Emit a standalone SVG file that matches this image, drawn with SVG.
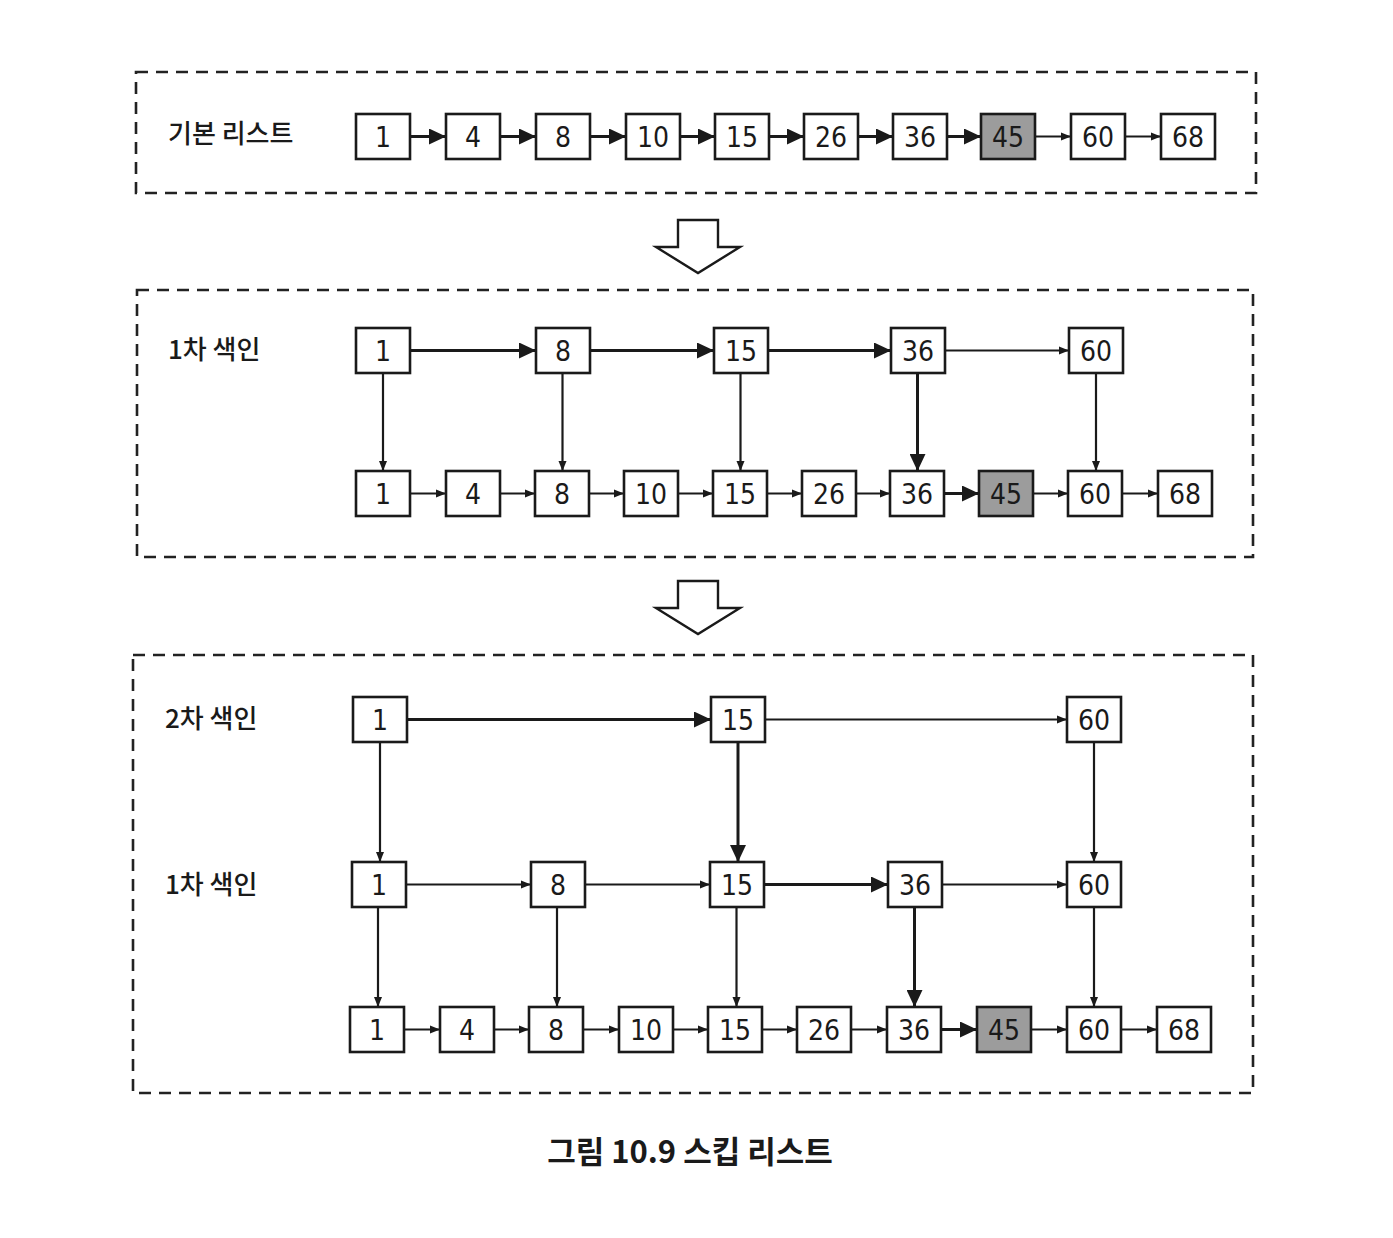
<svg xmlns="http://www.w3.org/2000/svg" width="1393" height="1238" viewBox="0 0 1393 1238">
<style>
.frame{fill:none;stroke:#222;stroke-width:2.6;stroke-dasharray:12 8}
.n rect{fill:#fff;stroke:#1a1a1a;stroke-width:2.6}
.n.hl rect{fill:#9c9c9c}
.n text{font-family:"DejaVu Sans Condensed","DejaVu Sans",sans-serif;font-stretch:condensed;font-size:28px;fill:#1a1a1a;text-anchor:middle}
.lbl{font-family:"Noto Sans CJK KR","Noto Sans",sans-serif;font-size:26px;font-weight:500;fill:#1a1a1a}
.cap{font-family:"Noto Sans CJK KR","Noto Sans",sans-serif;font-size:31px;font-weight:bold;fill:#1a1a1a}
.b{stroke:#1a1a1a;stroke-width:3;fill:none;marker-end:url(#big)}
.s{stroke:#1a1a1a;stroke-width:2.2;fill:none;marker-end:url(#small)}
.hollow{fill:#fff;stroke:#1a1a1a;stroke-width:2.4;stroke-linejoin:miter}
</style>
<defs>
<marker id="big" markerUnits="userSpaceOnUse" markerWidth="18" markerHeight="16" refX="17" refY="8" orient="auto"><path d="M0,0 L17,8 L0,16 z" fill="#1a1a1a"/></marker>
<marker id="small" markerUnits="userSpaceOnUse" markerWidth="10" markerHeight="10" refX="10" refY="5" orient="auto"><path d="M0,1 L10,5 L0,9 z" fill="#1a1a1a"/></marker>
</defs>
<rect width="1393" height="1238" fill="#ffffff"/>

<!-- frames -->
<rect class="frame" x="136" y="72" width="1120" height="121"/>
<rect class="frame" x="137" y="290" width="1116" height="267"/>
<rect class="frame" x="133" y="655" width="1120" height="438"/>

<text class="lbl" x="168" y="143">기본 리스트</text>
<text class="lbl" x="168" y="359">1차 색인</text>
<text class="lbl" x="165" y="728">2차 색인</text>
<text class="lbl" x="165" y="894">1차 색인</text>

<!-- hollow arrows -->
<polygon class="hollow" points="678,220 718,220 718,247 740,247 698,273 656,247 678,247"/>
<polygon class="hollow" points="678,581 718,581 718,608 740,608 698,634 656,608 678,608"/>

<!-- connectors -->
<g id="connectors">
<!-- box 1 -->
<line class="b" x1="410" y1="136.5" x2="446" y2="136.5"/>
<line class="b" x1="500" y1="136.5" x2="536" y2="136.5"/>
<line class="b" x1="590" y1="136.5" x2="626" y2="136.5"/>
<line class="b" x1="680" y1="136.5" x2="715" y2="136.5"/>
<line class="b" x1="769" y1="136.5" x2="804" y2="136.5"/>
<line class="b" x1="858" y1="136.5" x2="893" y2="136.5"/>
<line class="b" x1="947" y1="136.5" x2="981" y2="136.5"/>
<line class="s" x1="1035" y1="136.5" x2="1071" y2="136.5"/>
<line class="s" x1="1125" y1="136.5" x2="1161" y2="136.5"/>
<!-- box 2 upper -->
<line class="b" x1="410" y1="350.5" x2="536" y2="350.5"/>
<line class="b" x1="590" y1="350.5" x2="714" y2="350.5"/>
<line class="b" x1="768" y1="350.5" x2="891" y2="350.5"/>
<line class="s" x1="945" y1="350.5" x2="1069" y2="350.5"/>
<!-- box 2 verticals -->
<line class="s" x1="383" y1="373" x2="383" y2="471"/>
<line class="s" x1="562.5" y1="373" x2="562.5" y2="471"/>
<line class="s" x1="740.5" y1="373" x2="740.5" y2="471"/>
<line class="b" x1="917.5" y1="373" x2="917.5" y2="471"/>
<line class="s" x1="1096" y1="373" x2="1096" y2="471"/>
<!-- box 2 lower -->
<line class="s" x1="410" y1="493.5" x2="446" y2="493.5"/>
<line class="s" x1="500" y1="493.5" x2="535" y2="493.5"/>
<line class="s" x1="589" y1="493.5" x2="624" y2="493.5"/>
<line class="s" x1="678" y1="493.5" x2="713" y2="493.5"/>
<line class="s" x1="767" y1="493.5" x2="802" y2="493.5"/>
<line class="s" x1="856" y1="493.5" x2="890" y2="493.5"/>
<line class="b" x1="944" y1="493.5" x2="979" y2="493.5"/>
<line class="s" x1="1033" y1="493.5" x2="1068" y2="493.5"/>
<line class="s" x1="1122" y1="493.5" x2="1158" y2="493.5"/>
<!-- box 3 second index -->
<line class="b" x1="407" y1="719.5" x2="711" y2="719.5"/>
<line class="s" x1="765" y1="719.5" x2="1067" y2="719.5"/>
<line class="s" x1="380" y1="742" x2="380" y2="862"/>
<line class="b" x1="738" y1="742" x2="738" y2="862"/>
<line class="s" x1="1094" y1="742" x2="1094" y2="862"/>
<!-- box 3 first index -->
<line class="s" x1="406" y1="884.5" x2="531" y2="884.5"/>
<line class="s" x1="585" y1="884.5" x2="710" y2="884.5"/>
<line class="b" x1="764" y1="884.5" x2="888" y2="884.5"/>
<line class="s" x1="942" y1="884.5" x2="1067" y2="884.5"/>
<line class="s" x1="378" y1="907" x2="378" y2="1007"/>
<line class="s" x1="557" y1="907" x2="557" y2="1007"/>
<line class="s" x1="736.5" y1="907" x2="736.5" y2="1007"/>
<line class="b" x1="914.5" y1="907" x2="914.5" y2="1007"/>
<line class="s" x1="1094" y1="907" x2="1094" y2="1007"/>
<!-- box 3 base -->
<line class="s" x1="404" y1="1029.5" x2="440" y2="1029.5"/>
<line class="s" x1="494" y1="1029.5" x2="529" y2="1029.5"/>
<line class="s" x1="583" y1="1029.5" x2="619" y2="1029.5"/>
<line class="s" x1="673" y1="1029.5" x2="708" y2="1029.5"/>
<line class="s" x1="762" y1="1029.5" x2="797" y2="1029.5"/>
<line class="s" x1="851" y1="1029.5" x2="887" y2="1029.5"/>
<line class="b" x1="941" y1="1029.5" x2="977" y2="1029.5"/>
<line class="s" x1="1031" y1="1029.5" x2="1067" y2="1029.5"/>
<line class="s" x1="1121" y1="1029.5" x2="1157" y2="1029.5"/>
</g>

<!-- box 1 nodes -->
<g id="a1" class="n"><rect x="356" y="114" width="54" height="45"/><text x="383" y="147">1</text></g>
<g id="a4" class="n"><rect x="446" y="114" width="54" height="45"/><text x="473" y="147">4</text></g>
<g id="a8" class="n"><rect x="536" y="114" width="54" height="45"/><text x="563" y="147">8</text></g>
<g id="a10" class="n"><rect x="626" y="114" width="54" height="45"/><text x="653" y="147">10</text></g>
<g id="a15" class="n"><rect x="715" y="114" width="54" height="45"/><text x="742" y="147">15</text></g>
<g id="a26" class="n"><rect x="804" y="114" width="54" height="45"/><text x="831" y="147">26</text></g>
<g id="a36" class="n"><rect x="893" y="114" width="54" height="45"/><text x="920" y="147">36</text></g>
<g id="a45" class="n hl"><rect x="981" y="114" width="54" height="45"/><text x="1008" y="147">45</text></g>
<g id="a60" class="n"><rect x="1071" y="114" width="54" height="45"/><text x="1098" y="147">60</text></g>
<g id="a68" class="n"><rect x="1161" y="114" width="54" height="45"/><text x="1188" y="147">68</text></g>

<!-- box 2 upper -->
<g id="b1i1" class="n"><rect x="356" y="328" width="54" height="45"/><text x="383" y="361">1</text></g>
<g id="b1i8" class="n"><rect x="536" y="328" width="54" height="45"/><text x="563" y="361">8</text></g>
<g id="b1i15" class="n"><rect x="714" y="328" width="54" height="45"/><text x="741" y="361">15</text></g>
<g id="b1i36" class="n"><rect x="891" y="328" width="54" height="45"/><text x="918" y="361">36</text></g>
<g id="b1i60" class="n"><rect x="1069" y="328" width="54" height="45"/><text x="1096" y="361">60</text></g>
<!-- box 2 lower -->
<g id="b1" class="n"><rect x="356" y="471" width="54" height="45"/><text x="383" y="504">1</text></g>
<g id="b4" class="n"><rect x="446" y="471" width="54" height="45"/><text x="473" y="504">4</text></g>
<g id="b8" class="n"><rect x="535" y="471" width="54" height="45"/><text x="562" y="504">8</text></g>
<g id="b10" class="n"><rect x="624" y="471" width="54" height="45"/><text x="651" y="504">10</text></g>
<g id="b15" class="n"><rect x="713" y="471" width="54" height="45"/><text x="740" y="504">15</text></g>
<g id="b26" class="n"><rect x="802" y="471" width="54" height="45"/><text x="829" y="504">26</text></g>
<g id="b36" class="n"><rect x="890" y="471" width="54" height="45"/><text x="917" y="504">36</text></g>
<g id="b45" class="n hl"><rect x="979" y="471" width="54" height="45"/><text x="1006" y="504">45</text></g>
<g id="b60" class="n"><rect x="1068" y="471" width="54" height="45"/><text x="1095" y="504">60</text></g>
<g id="b68" class="n"><rect x="1158" y="471" width="54" height="45"/><text x="1185" y="504">68</text></g>

<!-- box 3 second index -->
<g id="c2i1" class="n"><rect x="353" y="697" width="54" height="45"/><text x="380" y="730">1</text></g>
<g id="c2i15" class="n"><rect x="711" y="697" width="54" height="45"/><text x="738" y="730">15</text></g>
<g id="c2i60" class="n"><rect x="1067" y="697" width="54" height="45"/><text x="1094" y="730">60</text></g>
<!-- box 3 first index -->
<g id="c1i1" class="n"><rect x="352" y="862" width="54" height="45"/><text x="379" y="895">1</text></g>
<g id="c1i8" class="n"><rect x="531" y="862" width="54" height="45"/><text x="558" y="895">8</text></g>
<g id="c1i15" class="n"><rect x="710" y="862" width="54" height="45"/><text x="737" y="895">15</text></g>
<g id="c1i36" class="n"><rect x="888" y="862" width="54" height="45"/><text x="915" y="895">36</text></g>
<g id="c1i60" class="n"><rect x="1067" y="862" width="54" height="45"/><text x="1094" y="895">60</text></g>
<!-- box 3 base -->
<g id="c1" class="n"><rect x="350" y="1007" width="54" height="45"/><text x="377" y="1040">1</text></g>
<g id="c4" class="n"><rect x="440" y="1007" width="54" height="45"/><text x="467" y="1040">4</text></g>
<g id="c8" class="n"><rect x="529" y="1007" width="54" height="45"/><text x="556" y="1040">8</text></g>
<g id="c10" class="n"><rect x="619" y="1007" width="54" height="45"/><text x="646" y="1040">10</text></g>
<g id="c15" class="n"><rect x="708" y="1007" width="54" height="45"/><text x="735" y="1040">15</text></g>
<g id="c26" class="n"><rect x="797" y="1007" width="54" height="45"/><text x="824" y="1040">26</text></g>
<g id="c36" class="n"><rect x="887" y="1007" width="54" height="45"/><text x="914" y="1040">36</text></g>
<g id="c45" class="n hl"><rect x="977" y="1007" width="54" height="45"/><text x="1004" y="1040">45</text></g>
<g id="c60" class="n"><rect x="1067" y="1007" width="54" height="45"/><text x="1094" y="1040">60</text></g>
<g id="c68" class="n"><rect x="1157" y="1007" width="54" height="45"/><text x="1184" y="1040">68</text></g>

<text class="cap" x="690" y="1163" text-anchor="middle">그림 10.9 스킵 리스트</text>
</svg>
